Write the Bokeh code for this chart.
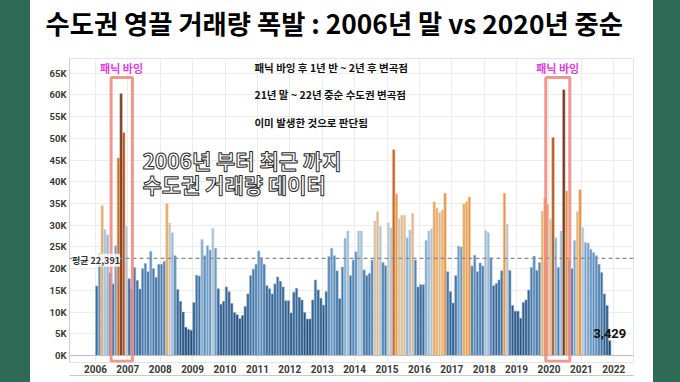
import numpy as np
from bokeh.plotting import figure
from bokeh.models import (Range1d, FixedTicker, Span, BoxAnnotation, Label,
                          ColumnDataSource, LinearAxis, Title)
from bokeh.embed import file_html
from bokeh.resources import INLINE

# ---------------- data (monthly transactions, thousands) ----------------
years = list(range(2006, 2023))
year_labels = [str(y) for y in years]

v2006 = [16.0, 23.5, 34.5, 29.0, 27.8, 19.0, 16.5, 25.3, 45.5, 60.3, 51.3, 29.8]
v2007 = [17.7, 15.3, 20.3, 17.3, 15.3, 20.0, 21.2, 19.3, 24.0, 20.0, 18.0, 21.0]
v2008 = [21.0, 21.7, 35.0, 30.5, 28.3, 23.0, 15.2, 12.5, 10.0, 6.5, 6.0, 5.8]
v2009 = [12.2, 18.5, 18.3, 26.7, 23.0, 25.3, 24.3, 29.3, 24.7, 15.4, 11.8, 12.5]
v2010 = [15.8, 14.7, 12.0, 9.9, 9.4, 8.5, 9.2, 11.3, 14.2, 18.4, 19.9, 21.0]
v2011 = [24.1, 22.6, 21.0, 16.1, 15.4, 14.2, 16.5, 18.1, 17.1, 15.8, 12.6, 12.6]
v2012 = [9.8, 14.6, 15.5, 13.4, 12.8, 9.9, 8.4, 8.4, 12.8, 17.4, 15.1, 13.2]
v2013 = [11.6, 14.7, 22.8, 24.7, 23.0, 19.5, 13.1, 20.4, 27.0, 28.7, 18.4, 22.0]
v2014 = [23.9, 28.7, 28.7, 19.7, 18.4, 18.9, 22.0, 31.0, 33.1, 29.8, 21.4, 20.7]
v2015 = [30.6, 29.4, 47.4, 37.2, 31.6, 32.3, 32.3, 27.1, 28.9, 32.7, 22.0, 15.8]
v2016 = [16.3, 16.3, 26.5, 28.7, 29.2, 35.4, 34.0, 32.9, 33.5, 37.4, 19.3, 14.7]
v2017 = [12.1, 18.4, 25.2, 25.0, 34.9, 35.4, 36.5, 20.6, 23.1, 19.3, 21.3, 20.6]
v2018 = [28.8, 28.3, 22.5, 16.1, 16.6, 17.4, 19.5, 37.4, 30.3, 19.6, 11.5, 10.2]
v2019 = [10.2, 8.6, 12.2, 12.8, 15.1, 20.3, 22.9, 19.6, 21.4, 33.3, 36.3, 34.8]
v2020 = [31.4, 50.2, 27.1, 20.3, 28.7, 61.2, 37.9, 22.0, 20.0, 26.5, 33.1, 38.2]
v2021 = [29.5, 26.0, 25.9, 24.5, 23.7, 23.0, 21.0, 19.1, 14.2, 11.5, 3.429]

avg_value = 22391
last_label = "3,429"
ytick_values = list(range(0, 65001, 5000))
ytick_labels = [f"{t // 1000}K" for t in ytick_values]

# panic-buying windows: (start year, start month, end year, end month)
panic_windows = [(2006, 7, 2007, 2), (2019, 12, 2020, 8)]
panic_text = "패닉 바잉"
title_text = "수도권 영끌 거래량 폭발 : 2006년 말 vs 2020년 중순"
note_lines = ["패닉 바잉 후 1년 반 ~ 2년 후 변곡점",
              "21년 말 ~ 22년 중순 수도권 변곡점",
              "이미 발생한 것으로 판단됨"]
overlay_lines = ["2006년 부터 최근 까지", "수도권 거래량 데이터"]
avg_text = "평균 22,391"

# ---------------- build ----------------
vals_k = (v2006 + v2007 + v2008 + v2009 + v2010 + v2011 + v2012 + v2013 +
          v2014 + v2015 + v2016 + v2017 + v2018 + v2019 + v2020 + v2021)
vals = np.array(vals_k) * 1000.0
idx = np.arange(len(vals))

anchors = [(0, (26, 68, 112)), (8, (34, 80, 128)), (15, (52, 101, 150)),
           (20, (70, 121, 170)), (24, (98, 146, 192)), (27, (134, 175, 208)),
           (29.5, (176, 198, 214)), (31.5, (211, 196, 172)), (33.5, (228, 178, 118)),
           (36, (234, 158, 80)), (40, (226, 134, 54)), (47, (204, 98, 30)),
           (52, (176, 78, 26)), (61, (114, 52, 26))]
ax = [a[0] for a in anchors]


def color_for(vk):
    return [np.interp(vk, ax, [a[1][c] for a in anchors]) for c in range(3)]


def hexc(rgb):
    return "#%02x%02x%02x" % tuple(int(round(max(0, min(255, c)))) for c in rgb)


fills, edges = [], []
for vk in vals_k:
    rgb = color_for(vk)
    fills.append(hexc(rgb))
    edges.append(hexc([c + (255 - c) * 0.45 for c in rgb]))

src = ColumnDataSource(dict(i=idx, v=vals, fill=fills, edge=edges))

KFONT = "Noto Sans CJK KR"

p = figure(width=680, height=382, x_range=Range1d(-10.1, 198.8),
           y_range=Range1d(-1600, 68400), output_backend="svg",
           toolbar_location=None, min_border_left=69, min_border_right=47,
           min_border_top=57, min_border_bottom=20,
           border_fill_color=None, background_fill_color="white",
           outline_line_color="#e4e4e4")

# title
p.title.text = title_text
p.title.text_font = KFONT
p.title.text_font_style = "bold"
p.title.text_font_size = "26.3px"
p.title.text_color = "#000000"
p.title.align = "left"
p.title.offset = -24
p.title.standoff = 0

# blank spacer between the title and the plot frame
p.add_layout(Title(text=" ", text_font_size="13px", standoff=0), "above")

p.xgrid.grid_line_color = "#ececec"
p.ygrid.grid_line_color = "#ececec"

p.vbar(x="i", top="v", bottom=0, width=0.86, fill_color="fill",
       line_color="edge", line_width=0.6, source=src)

p.add_layout(Span(location=0, dimension="width", line_color="#bdbdbd", line_width=1))
p.add_layout(Span(location=avg_value, dimension="width", line_color="#8a8a8a",
                  line_dash="4 3", line_width=1.2))

# axes
p.yaxis.ticker = FixedTicker(ticks=ytick_values)
p.yaxis.major_label_overrides = {t: l for t, l in zip(ytick_values, ytick_labels)}
p.yaxis.major_label_text_font = "Roboto"
p.yaxis.major_label_text_font_style = "bold"
p.yaxis.major_label_text_font_size = "9.5px"
p.yaxis.major_label_text_color = "#3a3a3a"
p.yaxis.axis_line_color = "#cfcfcf"
p.yaxis.major_tick_line_color = None
p.yaxis.minor_tick_line_color = None
p.yaxis.major_tick_out = 0
p.yaxis.major_label_standoff = 3

xt = [12 * k - 0.5 for k in range(len(years))]
p.xaxis.ticker = FixedTicker(ticks=xt)
p.xaxis.major_label_overrides = {t: l for t, l in zip(xt, year_labels)}
p.xaxis.major_label_text_font = "Roboto"
p.xaxis.major_label_text_font_style = "bold"
p.xaxis.major_label_text_font_size = "10px"
p.xaxis.major_label_text_color = "#3a3a3a"
p.xaxis.axis_line_color = None
p.xaxis.major_tick_line_color = None
p.xaxis.minor_tick_line_color = None
p.xaxis.major_tick_out = 0
p.xaxis.major_tick_in = 0
p.xaxis.major_label_standoff = 2

# separator line under the year labels
sep = LinearAxis(ticker=FixedTicker(ticks=[]), axis_line_color="#c8c8c8",
                 major_tick_line_color=None, minor_tick_line_color=None,
                 major_label_text_font_size="0px", major_tick_out=0)
p.add_layout(sep, "below")

# panic boxes
for (sy, sm, ey, em) in panic_windows:
    s = (sy - years[0]) * 12 + sm - 1
    e = (ey - years[0]) * 12 + em - 1
    p.add_layout(BoxAnnotation(left=s - 0.7, right=e + 0.2, bottom=-1300, top=64000,
                               fill_alpha=0, line_color="#f08c84", line_width=3,
                               line_alpha=0.9))
    p.add_layout(Label(x=(s + e) / 2 - 0.3, y=66200, text=panic_text, text_font=KFONT,
                       text_font_style="bold", text_font_size="11px",
                       text_color="#e03ee0", text_align="center",
                       text_baseline="middle"))

# average label
p.add_layout(Label(x=-9.2, y=avg_value, y_offset=-2, text=avg_text, text_font=KFONT,
                   text_font_style="bold", text_font_size="9px", text_color="#333333",
                   text_baseline="middle", background_fill_color="white",
                   background_fill_alpha=0.8))

# last value label
p.add_layout(Label(x=idx[-1], y=vals[-1], y_offset=3, text=last_label,
                   text_font="Roboto", text_font_style="bold", text_font_size="13px",
                   text_color="#111111", text_align="center", text_baseline="bottom"))

# notes
for t, yv in zip(note_lines, [66300, 60100, 53700]):
    p.add_layout(Label(x=58.4, y=yv, text=t, text_font=KFONT, text_font_style="bold",
                       text_font_size="10.5px", text_color="#111111",
                       text_baseline="middle"))

# overlay caption
for t, yv in zip(overlay_lines, [45000, 39500]):
    p.add_layout(Label(x=16.9, y=yv, text=t, text_font=KFONT, text_font_style="bold",
                       text_font_size="21px", text_color="white",
                       text_outline_color="#2a2a2a", text_baseline="middle"))

css = ("<style>html{background:linear-gradient(to right,#2e6b57 0px,#2e6b57 30px,"
       "#ffffff 30px,#ffffff 653px,#2e6b57 653px,#2e6b57 100%);min-height:100%;}"
       "body{background:transparent;}</style>")
html = file_html(p, INLINE, title="수도권 거래량")
html = html.replace("</head>", css + "</head>", 1)
open("out.html", "w").write(html)
